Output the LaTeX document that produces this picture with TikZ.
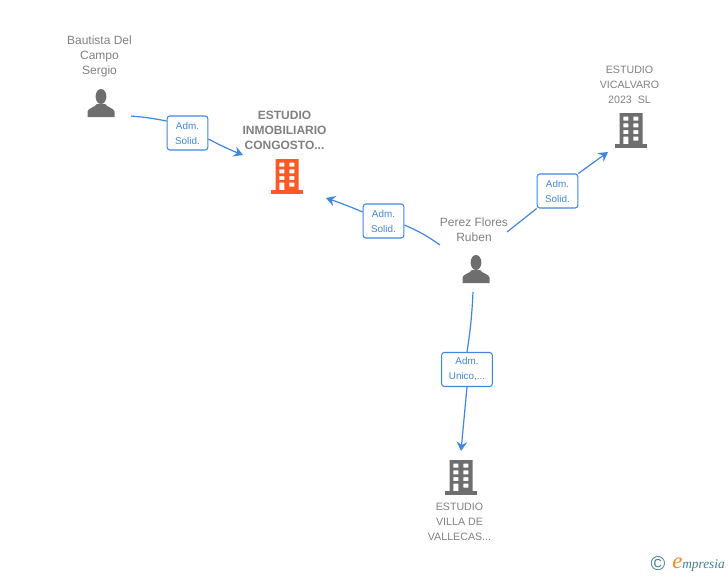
\documentclass[tikz,border=0pt]{standalone}
\usepackage{fontspec}
\setmainfont{Liberation Sans}
\newfontfamily\logofont{Liberation Serif}
\usepackage{xcolor}
\usetikzlibrary{arrows.meta,positioning}
\definecolor{linkblue}{HTML}{3F86E0}
\definecolor{labelgray}{HTML}{808080}
\definecolor{icongray}{HTML}{6E6E6E}
\definecolor{mainorange}{HTML}{FF5A26}
\definecolor{logoteal}{HTML}{3E7F94}
\definecolor{logoorange}{HTML}{F08A1D}
\tikzset{%
	title/.style    = {text=labelgray, align=center, inner sep=0pt, font=\fontsize{9}{11.25}\selectfont},
	maintitle/.style = {title, font=\fontsize{9}{11.25}\selectfont\bfseries},
	firm/.style     = {title, font=\fontsize{8}{11.25}\selectfont},
	role/.style     = {draw=linkblue, fill=white, rounded corners=2pt, line width=0.8pt, text=linkblue, align=center, inner sep=0pt, minimum width=30.5pt, minimum height=25.5pt, font=\fontsize{7.4}{11.25}\selectfont},
	wideline/.style = {draw=linkblue, line width=0.9pt},
	arrow/.style    = {wideline, -{Stealth[length=7pt,width=8pt,inset=2.5pt]}},
	person/.pic     = {
		\fill[icongray] (0,-6.5) ellipse (5.4 and 7.5);
		\fill[icongray] (-13.5,14) -- (-13.5,8.5) .. controls (-13,5) and (-6,4.5) .. (-4,1) -- (4,1) .. controls (6,4.5) and (13,5) .. (13.5,8.5) -- (13.5,14) -- cycle;
	},
	building/.pic   = {
		\fill[pic actions, even odd rule] (-11.5,-17) rectangle (11.5,14.5)
			(-7.7,-13.3) rectangle (-2.7,-9.3) (2.3,-13.3) rectangle (7.3,-9.3)
			(-7.7,-6.7) rectangle (-2.7,-2.7) (2.3,-6.7) rectangle (7.3,-2.7)
			(-7.7,0) rectangle (-2.7,4) (2.3,0) rectangle (7.3,4)
			(-7.7,6.7) rectangle (-2.7,14) (2.3,6.7) rectangle (7.3,10.7);
		\fill[pic actions] (-16,14) rectangle (16,17.5);
	},
}

\begin{document}
\begin{tikzpicture}[x=0.75pt,y=-0.75pt]
	\useasboundingbox (0,0) rectangle (728,575);
	% people and companies
	\pic at (101,103) {person};
	\pic at (476,269) {person};
	\pic[fill=mainorange] at (287,176) {building};
	\pic[fill=icongray] at (631,130) {building};
	\pic[fill=icongray] at (461,477) {building};
	\node [title] (bautista) at (99.5,56) {Bautista Del\\Campo\\Sergio};
	\node [title] (perez) at (474,229.5) {Perez Flores\\Ruben};
	\node [maintitle] (congosto) at (284.5,130) {ESTUDIO\\INMOBILIARIO\\CONGOSTO...};
	\node [firm] (vicalvaro) at (629.5,84.5) {ESTUDIO\\VICALVARO\\2023\ \ SL};
	\node [firm] (villa) at (459.5,522) {ESTUDIO\\VILLA DE\\VALLECAS...};
	% roles
	\node [role] (R1) at (187.5,133) {Adm.\\Solid.};
	\node [role] (R2) at (383.5,221) {Adm.\\Solid.};
	\node [role] (R3) at (557.5,191) {Adm.\\Solid.};
	\node [role, minimum width=38pt] (R4) at (467,369.5) {Adm.\\Unico,...};
	% free ends
	\coordinate (s1) at (131,116);
	\coordinate (t1) at (243,155);
	\coordinate (s2) at (440,245);
	\coordinate (t2) at (326,198);
	\coordinate (s3) at (507,232);
	\coordinate (t3) at (608,152);
	\coordinate (s4) at (473,292);
	\coordinate (t4) at (461,451);
	\draw[wideline] (s1) to[bend left=3] (R1.west |- 0,121);
	\draw[arrow] (R1.east |- 0,139) to[bend right=3] (t1);
	\draw[wideline] (s2) to[bend right=6] (R2.east |- 0,225);
	\draw[arrow] (R2.west |- 0,212) to[bend right=2] (t2);
	\draw[wideline] (s3) -- (R3.south west);
	\draw[arrow] (R3.north east) -- (t3);
	\draw[wideline] (s4) to[bend left=3] (R4.north |- 0,352);
	\draw[arrow] (R4.south) -- (t4);
	% logo
	\node [text=logoteal, inner sep=0pt, font=\fontsize{15}{15}\selectfont] (copy) at (658,564) {©};
	\node [text=logoorange, inner sep=0pt, font=\logofont\itshape\fontsize{17}{17}\selectfont] (logoe) at (677.5,563) {e};
	\node [text=logoteal, inner sep=0pt, anchor=west, font=\logofont\itshape\fontsize{10}{10}\selectfont] (logotext) at (682,565) {mpresia};
\end{tikzpicture}
\end{document}
